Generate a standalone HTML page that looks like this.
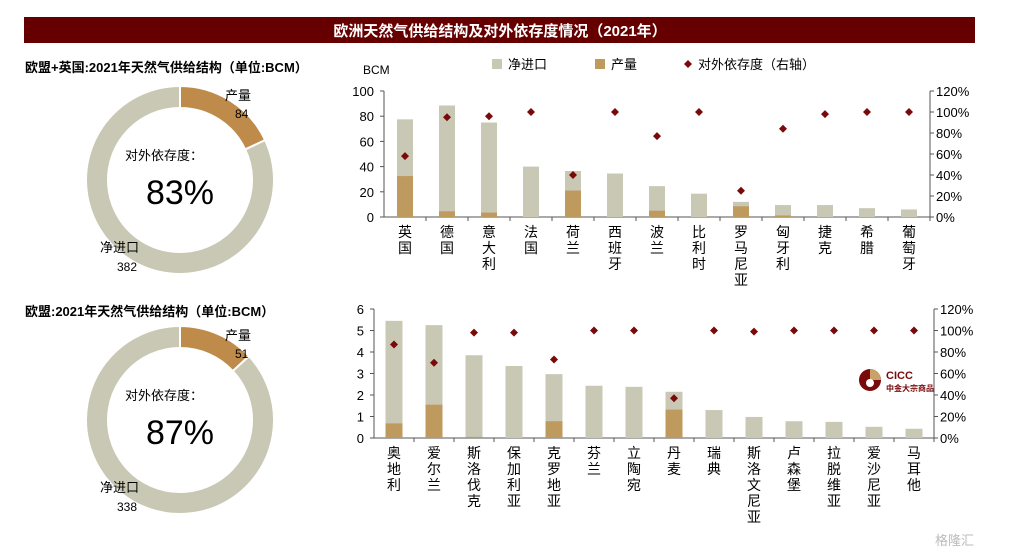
<!DOCTYPE html>
<html><head><meta charset="utf-8"><style>
body{margin:0;background:#fff;width:1009px;height:554px;overflow:hidden;font-family:"Liberation Sans","Noto Sans CJK SC",sans-serif}
svg text{font-family:"Liberation Sans","Noto Sans CJK SC",sans-serif}
</style></head><body>
<svg id="s" width="1009" height="554" xmlns="http://www.w3.org/2000/svg">
<rect x="24" y="17" width="951" height="26" fill="#660000"/>
<text x="500" y="36" fill="#fff" font-size="15" font-weight="bold" text-anchor="middle">欧洲天然气供给结构及对外依存度情况（2021年）</text>
<text x="25" y="72" font-size="13" font-weight="bold">欧盟+英国:2021年天然气供给结构（单位:BCM）</text>
<text x="25" y="316" font-size="13" font-weight="bold">欧盟:2021年天然气供给结构（单位:BCM）</text>
<text x="363" y="74" font-size="12">BCM</text>
<g>
<rect x="492" y="59" width="10" height="10" fill="#c9c8b5"/>
<text x="508" y="69" font-size="13">净进口</text>
<rect x="595" y="59" width="10" height="10" fill="#bf9a5e"/>
<text x="611" y="69" font-size="13">产量</text>
<path d="M688 60 l4 4 -4 4 -4 -4z" fill="#7a0a0a"/>
<text x="698" y="69" font-size="13">对外依存度（右轴）</text>
</g>
<g id="g"></g>
</svg>
<script>
const NS="http://www.w3.org/2000/svg";
const g=document.getElementById('g');
function el(t,a,txt){const e=document.createElementNS(NS,t);for(const k in a)e.setAttribute(k,a[k]);if(txt!==undefined)e.textContent=txt;g.appendChild(e);return e;}

// Top chart data
const topCats=["英国","德国","意大利","法国","荷兰","西班牙","波兰","比利时","罗马尼亚","匈牙利","捷克","希腊","葡萄牙"];
const topTotal=[77.5,88.5,75,40,36.5,34.5,24.5,18.5,12,9.5,9.5,7,6];
const topProd=[32.5,4.5,3.5,0,21,0,5,0,8.5,1.2,0,0,0];
const topDep=[58,95,96,100,40,100,77,100,25,84,98,100,100];
const topLeftTicks=[0,20,40,60,80,100];
const topRightTicks=[0,20,40,60,80,100,120];
// Bottom chart data
const botCats=["奥地利","爱尔兰","斯洛伐克","保加利亚","克罗地亚","芬兰","立陶宛","丹麦","瑞典","斯洛文尼亚","卢森堡","拉脱维亚","爱沙尼亚","马耳他"];
const botTotal=[5.45,5.25,3.85,3.35,2.97,2.43,2.38,2.15,1.3,0.98,0.78,0.75,0.52,0.43];
const botProd=[0.68,1.55,0.05,0,0.78,0,0,1.32,0,0,0,0,0,0];
const botDep=[87,70,98,98,73,100,100,37,100,99,100,100,100,100];
const botLeftTicks=[0,1,2,3,4,5,6];
const botRightTicks=[0,20,40,60,80,100,120];
// Donut data
const donutTop=[84,382];
const donutBot=[51,338];
const donutTopDep="83%";
const donutBotDep="87%";

function chart(name,cats,total,prod,dep,lt,rt,x0,x1,yTop,yBot,bw,maxL){
  const n=cats.length,step=(x1-x0)/n;
  const y=v=>yBot-(v/maxL)*(yBot-yTop);
  const yr=v=>yBot-(v/120)*(yBot-yTop);
  const ax=el('path',{d:`M${x0} ${yTop}V${yBot}H${x1}V${yTop}`,stroke:'#555',fill:'none','stroke-width':1});
  
  
  lt.forEach(v=>{
    el('path',{d:`M${x0-4} ${y(v)}H${x0}`,stroke:'#555'});
    const t=el('text',{x:x0-10,y:y(v)+5,'font-size':13,'text-anchor':'end'},v);
    
    
  });
  rt.forEach(v=>{
    el('path',{d:`M${x1} ${yr(v)}H${x1+4}`,stroke:'#555'});
    const t=el('text',{x:x1+6,y:yr(v)+5,'font-size':13},v+'%');
    
    
  });
  cats.forEach((c,i)=>{
    const cx=x0+step*(i+0.5);
    el('path',{d:`M${x0+step*(i+1)} ${yBot}v4`,stroke:'#555'});
    const b=el('rect',{x:cx-bw/2,y:y(total[i]),width:bw,height:y(0)-y(total[i]),fill:'#c9c8b5'});
    
    
    if(prod[i]>0){
      const p=el('rect',{x:cx-bw/2,y:y(prod[i]),width:bw,height:y(0)-y(prod[i]),fill:'#bf9a5e'});
      
      
    }
    const dy=yr(dep[i]);
    const m=el('path',{d:`M${cx} ${dy-4} l4 4 -4 4 -4 -4z`,fill:'#7a0a0a'});
    
    
    [...c].forEach((ch,k)=>{
      const t=el('text',{x:cx,y:yBot+20+k*16,'font-size':14,'text-anchor':'middle'},ch);
      
      
    });
  });
}
chart('top-chart',topCats,topTotal,topProd,topDep,topLeftTicks,topRightTicks,384,930,91,217,16,100);
chart('bottom-chart',botCats,botTotal,botProd,botDep,botLeftTicks,botRightTicks,374,934,309,438,17,6);

function donut(name,vals,cx,cy,R,r,dep){
  const tot=vals[0]+vals[1];
  const cols=['#bf8b4a','#c9c8b5'];
  let a0=0;
  vals.forEach((v,i)=>{
    const a1=a0+v/tot*2*Math.PI;
    const p=(a,rad)=>[cx+rad*Math.sin(a),cy-rad*Math.cos(a)];
    const [x1,y1]=p(a0,R),[x2,y2]=p(a1,R),[x3,y3]=p(a1,r),[x4,y4]=p(a0,r);
    const lg=(a1-a0)>Math.PI?1:0;
    const s=el('path',{d:`M${x1} ${y1}A${R} ${R} 0 ${lg} 1 ${x2} ${y2}L${x3} ${y3}A${r} ${r} 0 ${lg} 0 ${x4} ${y4}Z`,fill:cols[i],stroke:'#fff','stroke-width':2});
    
    
    a0=a1;
  });
  const t1=el('text',{x:cx-55,y:cy-20,'font-size':13},'对外依存度：');
  
  
  const t2=el('text',{x:cx,y:cy+24,'font-size':34,'text-anchor':'middle'},dep);
  
  
  const l1=el('text',{x:cx+45,y:cy-80,'font-size':13},'产量');
  
  
  const l2=el('text',{x:cx+55,y:cy-62,'font-size':12},vals[0]);
  
  
  const l3=el('text',{x:cx-80,y:cy+72,'font-size':13},'净进口');
  
  
  const l4=el('text',{x:cx-63,y:cy+91,'font-size':12},vals[1]);
  
  
}
donut('top-donut',donutTop,180,180,94,72,donutTopDep);
donut('bottom-donut',donutBot,180,420,94,72,donutBotDep);

// logo
const lc=el('circle',{cx:870,cy:380,r:11,fill:'#7a0a0a'});


el('path',{d:'M870 369A11 11 0 0 1 881 380H870Z',fill:'#c9a26a'});
el('circle',{cx:870,cy:383,r:4,fill:'#fff'});
const lt1=el('text',{x:886,y:379,'font-size':11,'font-weight':'bold',fill:'#7a0a0a'},'CICC');


const lt2=el('text',{x:886,y:391,'font-size':8,'font-weight':'bold',fill:'#7a0a0a'},'中金大宗商品');


const wm=el('text',{x:935,y:545,'font-size':13,fill:'#bbb'},'格隆汇');


</script>
</body></html>
